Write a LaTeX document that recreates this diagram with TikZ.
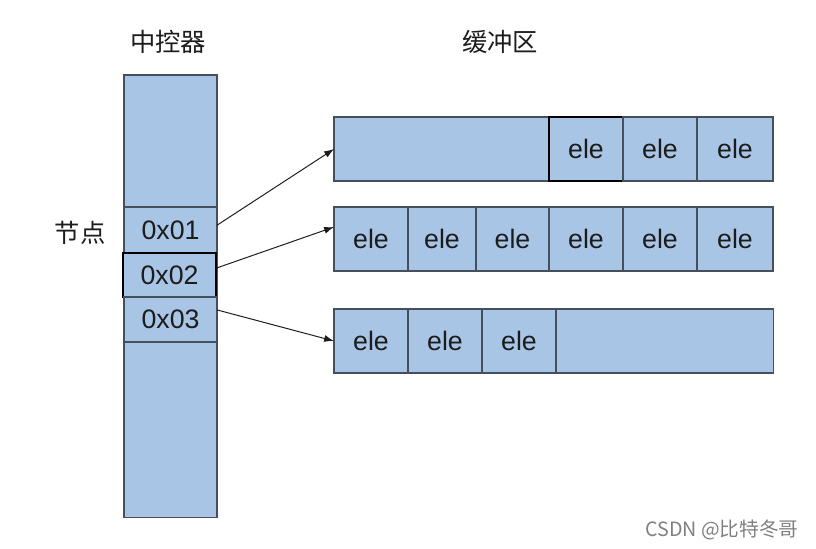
\documentclass[tikz,border=0pt]{standalone}
\usepackage{fontspec}
\setmainfont{Liberation Sans}
\newfontfamily\cjk{Noto Sans CJK SC}
\usetikzlibrary{positioning,arrows.meta}

\definecolor{boxfill}{HTML}{A9C5E6}
\definecolor{boxline}{HTML}{45505C}
\definecolor{inkgray}{HTML}{1C1C1C}

\tikzset{
    cellbox/.style={draw=boxline, fill=boxfill, line width=0.8pt, inner sep=0pt, outer sep=0pt, anchor=north west, text=inkgray, font=\fontsize{19}{21}\selectfont},
    markbox/.style={cellbox, draw=black, line width=1.1pt},
    title/.style={font=\cjk\fontsize{18}{20}\selectfont, text=inkgray},
    link/.style={-{Latex[length=7pt,width=5pt]}, line width=0.7pt, draw=inkgray}
}

\begin{document}
\begin{tikzpicture}[x=0.025cm, y=-0.025cm]
    \useasboundingbox (0,0) rectangle (816,548);

    % 标题
    \node[title] (tctrl) at (168,42) {中控器};
    \node[title] (tbuf) at (500,42) {缓冲区};
    \node[title] (tnode) at (80,233) {节点};

    % 中控器
    \node[cellbox, minimum width=2.325cm, minimum height=11.05cm] (ctrl) at (124,75) {};
    \node[cellbox, minimum width=2.325cm, minimum height=1.15cm] (c1) at (124,207) {0x01};
    \node[markbox, minimum width=2.325cm, minimum height=1.1cm] (c2) at (123,253) {0x02};
    \node[cellbox, minimum width=2.325cm, minimum height=1.125cm] (c3) at (124,297) {0x03};

    % 缓冲区
    \node[cellbox, minimum width=10.975cm, minimum height=1.6cm] (r1) at (334,117) {};
    \node[markbox, minimum width=1.85cm, minimum height=1.6cm] (e11) at (549,117) {ele};
    \node[cellbox, minimum width=1.85cm, minimum height=1.6cm] (e12) at (623,117) {ele};
    \node[cellbox, minimum width=1.9cm, minimum height=1.6cm] (e13) at (697,117) {ele};

    \node[cellbox, minimum width=10.975cm, minimum height=1.6cm] (r2) at (334,207) {};
    \node[cellbox, minimum width=1.85cm, minimum height=1.6cm] (e21) at (334,207) {ele};
    \node[cellbox, minimum width=1.7cm, minimum height=1.6cm] (e22) at (408,207) {ele};
    \node[cellbox, minimum width=1.825cm, minimum height=1.6cm] (e23) at (476,207) {ele};
    \node[cellbox, minimum width=1.85cm, minimum height=1.6cm] (e24) at (549,207) {ele};
    \node[cellbox, minimum width=1.85cm, minimum height=1.6cm] (e25) at (623,207) {ele};
    \node[cellbox, minimum width=1.9cm, minimum height=1.6cm] (e26) at (697,207) {ele};

    \node[cellbox, minimum width=10.975cm, minimum height=1.6cm] (r3) at (334,309) {};
    \node[cellbox, minimum width=1.85cm, minimum height=1.6cm] (e31) at (334,309) {ele};
    \node[cellbox, minimum width=1.85cm, minimum height=1.6cm] (e32) at (408,309) {ele};
    \node[cellbox, minimum width=1.85cm, minimum height=1.6cm] (e33) at (482,309) {ele};

    % 指针
    \draw[link] ([yshift=0.12cm]c1.east) -- (r1.west);
    \draw[link] ([yshift=0.17cm]c2.east) -- ([yshift=0.3cm]r2.west);
    \draw[link] ([yshift=0.24cm]c3.east) -- (r3.west);

    \node[font=\cjk\fontsize{14}{16}\selectfont, text=gray] (mark) at (722,530) {CSDN @比特冬哥};
\end{tikzpicture}
\end{document}
